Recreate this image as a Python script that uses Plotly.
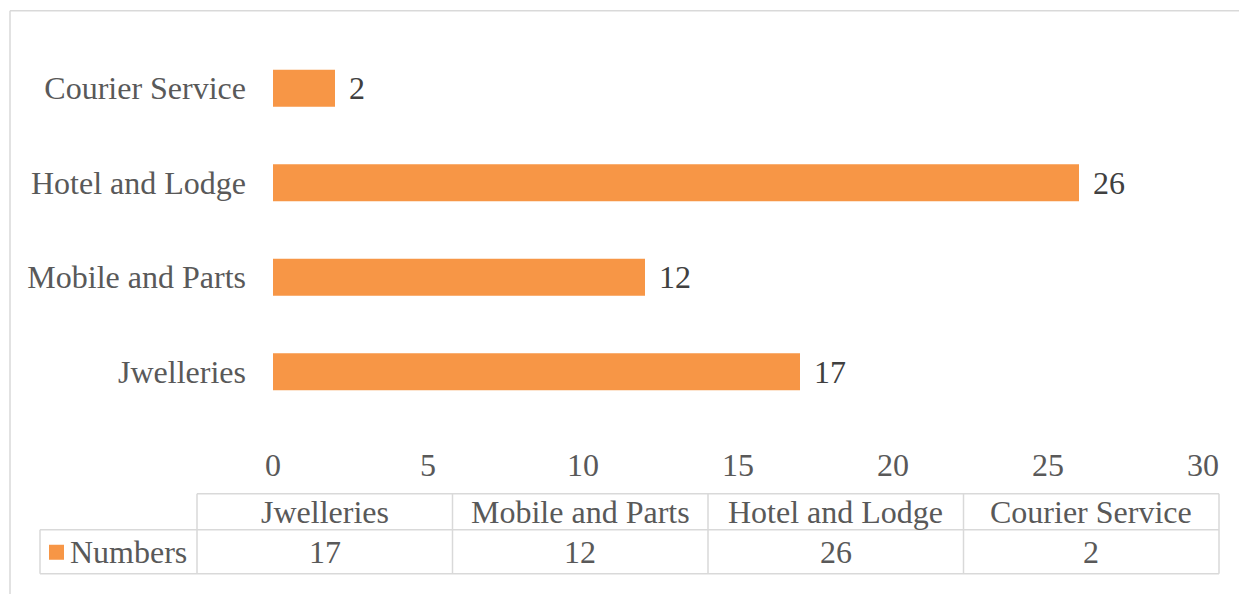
import plotly.graph_objects as go

categories = ["Jwelleries", "Mobile and Parts", "Hotel and Lodge", "Courier Service"]
values = [17, 12, 26, 2]
series_name = "Numbers"
x_ticks = [0, 5, 10, 15, 20, 25, 30]

W, H = 1247, 594
OFF = 8  # page body margin
PL, PR, PT, PB = 273, 1203, 41.25, 419.25  # plot area in screen pixels
ML, MR, MT, MB = PL - OFF, W - (PR - OFF), PT - OFF, H - (PB - OFF)
PW, PH = W - ML - MR, H - MT - MB

def px(x):
    return (x - OFF - ML) / PW

def py(y):
    return (H - MB - (y - OFF)) / PH

FONT = "Liberation Serif, Times New Roman, serif"
FS = 32
BAR = "#F79646"
GRID = "#D9D9D9"
TXT = "#595959"

fig = go.Figure()
fig.add_trace(go.Bar(
    y=categories, x=values, orientation="h",
    marker=dict(color=BAR, line=dict(width=0)),
    name=series_name, showlegend=False, hoverinfo="skip",
))

annotations = []
for c, v in zip(categories, values):
    annotations.append(dict(x=v, y=c, xref="x", yref="y", text=str(v),
                            showarrow=False, xanchor="left", xshift=12,
                            font=dict(family=FONT, size=FS, color="#404040")))

# data table below the chart
col_edges = [197, 452.5, 708, 963.5, 1219]
row_top, row_mid, row_bot = 494, 530, 574
table_left = 40
shapes = []
line = dict(color=GRID, width=1.5)
shapes.append(dict(type="line", xref="paper", yref="paper", x0=px(col_edges[0]), x1=px(col_edges[-1]), y0=py(row_top), y1=py(row_top), line=line))
shapes.append(dict(type="line", xref="paper", yref="paper", x0=px(table_left), x1=px(col_edges[-1]), y0=py(row_mid), y1=py(row_mid), line=line))
shapes.append(dict(type="line", xref="paper", yref="paper", x0=px(table_left), x1=px(col_edges[-1]), y0=py(row_bot), y1=py(row_bot), line=line))
for e in col_edges:
    shapes.append(dict(type="line", xref="paper", yref="paper", x0=px(e), x1=px(e), y0=py(row_top), y1=py(row_bot), line=line))
shapes.append(dict(type="line", xref="paper", yref="paper", x0=px(table_left), x1=px(table_left), y0=py(row_mid), y1=py(row_bot), line=line))
# legend key square
shapes.append(dict(type="rect", xref="paper", yref="paper", x0=px(49), x1=px(64), y0=py(545), y1=py(560), fillcolor=BAR, line=dict(width=0)))
# outer chart border (top and left)
shapes.append(dict(type="line", xref="paper", yref="paper", x0=px(10), x1=px(W + 20), y0=py(11), y1=py(11), line=line))
shapes.append(dict(type="line", xref="paper", yref="paper", x0=px(10), x1=px(10), y0=py(11), y1=py(H + 20), line=line))

for i, c in enumerate(categories):
    cx = (col_edges[i] + col_edges[i + 1]) / 2
    annotations.append(dict(x=px(cx), y=py((row_top + row_mid) / 2), xref="paper", yref="paper",
                            text=c, showarrow=False, xanchor="center", yanchor="middle",
                            font=dict(family=FONT, size=FS, color=TXT)))
    annotations.append(dict(x=px(cx), y=py((row_mid + row_bot) / 2), xref="paper", yref="paper",
                            text=str(values[i]), showarrow=False, xanchor="center", yanchor="middle",
                            font=dict(family=FONT, size=FS, color=TXT)))
annotations.append(dict(x=px(68), y=py((row_mid + row_bot) / 2), xref="paper", yref="paper",
                        text=series_name, showarrow=False, xanchor="left", yanchor="middle",
                        font=dict(family=FONT, size=FS, color=TXT)))

fig.update_layout(
    width=W, height=H,
    margin=dict(l=ML, r=MR, t=MT, b=MB, autoexpand=False),
    paper_bgcolor="white", plot_bgcolor="white",
    bargap=0.61,
    font=dict(family=FONT, size=FS, color=TXT),
    xaxis=dict(range=[0, 30], tickvals=x_ticks, showgrid=False, zeroline=False,
               showline=False, ticks="", ticklabelstandoff=24,
               tickfont=dict(family=FONT, size=FS, color=TXT), fixedrange=True),
    yaxis=dict(categoryorder="array", categoryarray=categories, showgrid=False,
               zeroline=False, showline=False, ticks="", ticklabelstandoff=26,
               tickfont=dict(family=FONT, size=FS, color=TXT), fixedrange=True),
    shapes=shapes, annotations=annotations,
)

fig.write_html("out.html")
